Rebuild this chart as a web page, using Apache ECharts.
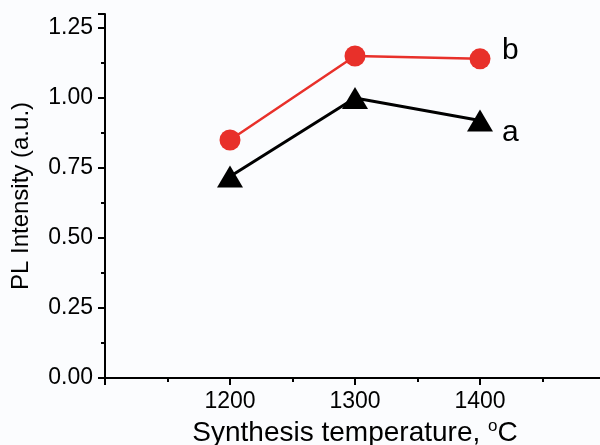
<!DOCTYPE html>
<html>
<head>
<meta charset="utf-8">
<script src="https://cdn.jsdelivr.net/npm/echarts@6/dist/echarts.min.js"></script>
<style>
  html, body { margin: 0; padding: 0; background: #fbfcfe; }
  #main { width: 600px; height: 445px; }
</style>
</head>
<body>
<div id="main"></div>
<script>
// synthesis temperature (°C)
const temps = [1200, 1300, 1400];
// PL intensity, sample a (black triangles) and b (red circles)
const seriesA = [0.72, 1.00, 0.92];
const seriesB = [0.85, 1.15, 1.14];
const yTicks = [0, 0.25, 0.5, 0.75, 1.0, 1.25];

const font = 'Liberation Sans, Arial, sans-serif';

const chart = echarts.init(document.getElementById('main'));

const toPairs = (vals) => temps.map((t, i) => [t, vals[i]]);

const option = {
  backgroundColor: '#fbfcfe',
  animation: false,
  grid: { left: 105, top: 14, width: 500, height: 364, outerBoundsMode: 'none', containLabel: false },
  xAxis: {
    type: 'value',
    min: 1100,
    max: 1500,
    interval: 100,
    name: '{t|Synthesis temperature, }{s|o}{t|C}',
    nameLocation: 'middle',
    nameGap: 38,
    nameTextStyle: {
      rich: {
        t: { fontFamily: font, fontSize: 28, color: '#000' },
        s: { fontFamily: font, fontSize: 17, color: '#000', verticalAlign: 'top', padding: [0, 0, 14, 0] }
      }
    },
    axisLine: { lineStyle: { color: '#000', width: 2 } },
    axisTick: { inside: false, length: 7, lineStyle: { color: '#000', width: 2 } },
    minorTick: { show: true, splitNumber: 2, length: 4, lineStyle: { color: '#000', width: 2 } },
    axisLabel: {
      color: '#000', fontFamily: font, fontSize: 23, margin: 12,
      formatter: (v) => (v === 1100 || v === 1500 ? '' : String(v))
    },
    splitLine: { show: false }
  },
  yAxis: {
    type: 'value',
    min: 0,
    max: 1.3,
    interval: 0.25,
    name: 'PL Intensity (a.u.)',
    nameLocation: 'middle',
    nameGap: 72,
    nameTextStyle: { fontFamily: font, fontSize: 24, color: '#000' },
    axisLine: { lineStyle: { color: '#000', width: 2 } },
    axisTick: { length: 7, lineStyle: { color: '#000', width: 2 } },
    minorTick: { show: true, splitNumber: 2, length: 4, lineStyle: { color: '#000', width: 2 } },
    axisLabel: {
      color: '#000', fontFamily: font, fontSize: 23, margin: 12,
      formatter: (v) => (yTicks.indexOf(v) >= 0 ? v.toFixed(2) : '')
    },
    splitLine: { show: false }
  },
  series: [
    {
      name: 'a',
      type: 'line',
      data: toPairs(seriesA),
      symbol: 'triangle',
      symbolSize: [26, 22],
      lineStyle: { color: '#000', width: 3 },
      itemStyle: { color: '#000' },
      endLabel: {
        show: true, formatter: 'a', fontFamily: font, fontSize: 30, color: '#000',
        distance: 22, offset: [0, 12]
      },
      z: 2
    },
    {
      name: 'b',
      type: 'line',
      data: toPairs(seriesB),
      symbol: 'circle',
      symbolSize: 21,
      lineStyle: { color: '#e8302a', width: 2.5 },
      itemStyle: { color: '#e8302a' },
      endLabel: {
        show: true, formatter: 'b', fontFamily: font, fontSize: 30, color: '#000',
        distance: 22, offset: [0, -8]
      },
      z: 3
    }
  ]
};

chart.setOption(option);
</script>
</body>
</html>
